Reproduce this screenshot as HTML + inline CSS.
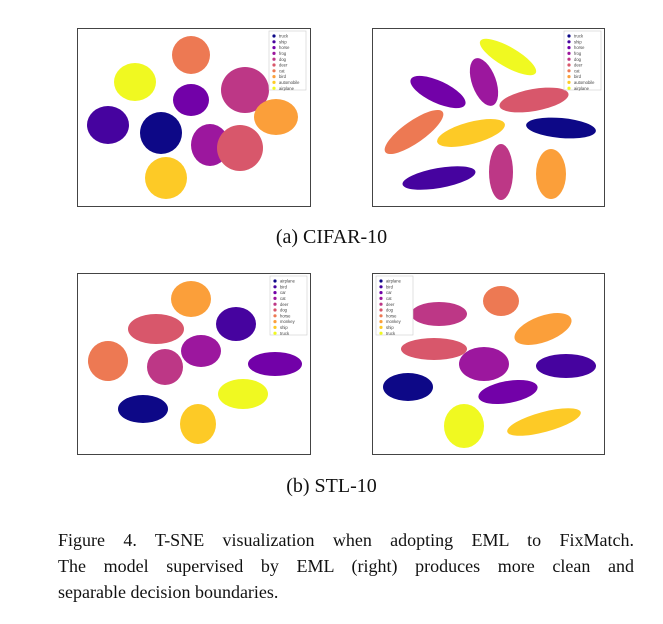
<!DOCTYPE html>
<html><head><meta charset="utf-8"><style>
body{margin:0;background:#fff;width:663px;height:624px;position:relative;overflow:hidden;font-family:"Liberation Serif",serif}
.p{position:absolute;border:1px solid #444;background:#fff}
.sub{position:absolute;width:663px;text-align:center;font-size:20px;color:#111}
.cap{position:absolute;left:58px;width:576px;font-size:18px;line-height:26px;color:#111}
.j{text-align:justify;text-align-last:justify}
</style></head><body>
<svg class="p" id="p0" style="left:77px;top:28px" width="232" height="177"></svg>
<svg class="p" id="p1" style="left:372px;top:28px" width="231" height="177"></svg>
<div class="sub" style="top:226px">(a) CIFAR-10</div>
<svg class="p" id="p2" style="left:77px;top:273px" width="232" height="180"></svg>
<svg class="p" id="p3" style="left:372px;top:273px" width="231" height="180"></svg>
<div class="sub" style="top:475px">(b) STL-10</div>
<div class="cap j" style="top:527px">Figure 4. T-SNE visualization when adopting EML to FixMatch.</div>
<div class="cap j" style="top:553px">The model supervised by EML (right) produces more clean and</div>
<div class="cap" style="top:579px">separable decision boundaries.</div>
<script>
const colors=["#0d0887","#46039f","#7201a8","#9c179e","#bd3786","#d8576b","#ed7953","#fb9f3a","#fdca26","#f0f921"];
const cifarLabels=["truck","ship","horse","frog","dog","deer","cat","bird","automobile","airplane"];
const stlLabels=["airplane","bird","car","cat","deer","dog","horse","monkey","ship","truck"];
// cluster per class: [cx, cy, rx, ry, rotation] in panel data units
const clustersP0=[[83,104,21,21,0],[30,96,21,19,0],[113,71,18,16,0],[132,116,19,21,0],[167,61,24,23,0],[162,119,23,23,0],[113,26,19,19,0],[198,88,22,18,0],[88,149,21,21,0],[57,53,21,19,0]];
const clustersP1=[[188,99,35,10,5],[66,149,37,10,-10],[65,63,30,11,25],[111,53,12,25,-20],[128,143,12,28,0],[161,71,35,11,-10],[41,103,35,11,-35],[178,145,15,25,0],[98,104,35,11,-15],[135,28,32,10,30]];
const clustersP2=[[65,135,25,14,0],[158,50,20,17,0],[197,90,27,12,0],[123,77,20,16,0],[87,93,18,18,0],[78,55,28,15,0],[30,87,20,20,-30],[113,25,20,18,0],[120,150,18,20,0],[165,120,25,15,0]];
const clustersP3=[[35,113,25,14,0],[193,92,30,12,0],[135,118,30,11,-10],[111,90,25,17,0],[66,40,28,12,0],[61,75,33,11,0],[128,27,18,15,0],[170,55,30,13,-20],[171,148,38,10,-15],[91,152,20,22,0]];
const NS="http://www.w3.org/2000/svg";
function draw(id,clusters,labels,legX){
  const s=document.getElementById(id);
  clusters.forEach((c,i)=>{
    const e=document.createElementNS(NS,"ellipse");
    
    
    e.setAttribute("cx",c[0]);e.setAttribute("cy",c[1]);e.setAttribute("rx",c[2]);e.setAttribute("ry",c[3]);
    e.setAttribute("transform",`rotate(${c[4]} ${c[0]} ${c[1]})`);
    e.setAttribute("fill",colors[i]);
    s.appendChild(e);
  });
  const g=document.createElementNS(NS,"g");
  
  
  const r=document.createElementNS(NS,"rect");
  r.setAttribute("x",legX);r.setAttribute("y",2);r.setAttribute("width",37);r.setAttribute("height",59);
  r.setAttribute("fill","#fff");r.setAttribute("stroke","#ccc");r.setAttribute("stroke-width","0.6");
  g.appendChild(r);
  labels.forEach((l,i)=>{
    const d=document.createElementNS(NS,"circle");
    
    
    d.setAttribute("cx",legX+5);d.setAttribute("cy",7+i*5.8);d.setAttribute("r",1.6);d.setAttribute("fill",colors[i]);
    g.appendChild(d);
    const t=document.createElementNS(NS,"text");
    
    
    t.setAttribute("x",legX+10);t.setAttribute("y",8.6+i*5.8);t.setAttribute("font-size","4.2");
    t.setAttribute("font-family","Liberation Sans, sans-serif");t.setAttribute("fill","#444");
    t.textContent=l;g.appendChild(t);
  });
  s.appendChild(g);
}
draw("p0",clustersP0,cifarLabels,191);
draw("p1",clustersP1,cifarLabels,191);
draw("p2",clustersP2,stlLabels,192);
draw("p3",clustersP3,stlLabels,3);
</script>
</body></html>
